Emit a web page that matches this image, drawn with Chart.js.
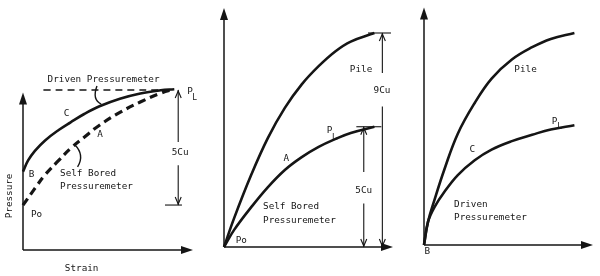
<!DOCTYPE html>
<html>
<head>
<meta charset="utf-8">
<script src="https://cdn.jsdelivr.net/npm/chart.js@4.4.1/dist/chart.umd.min.js"></script>
<style>
body{margin:0;background:#fff;width:600px;height:276px;overflow:hidden;position:relative}
canvas{position:absolute;top:0}
</style>
</head>
<body>
<canvas id="p1" width="205" height="276" style="left:0"></canvas>
<canvas id="p2" width="200" height="276" style="left:205px"></canvas>
<canvas id="p3" width="195" height="276" style="left:405px"></canvas>
<script>
// panel 1 : driven vs self bored pressuremeter (strain / pressure, arbitrary units 0-10)
const strain1=[0,0.3,0.7,1.3,2.1,2.8,3.6,4.5,5.7,6.9,8.1,8.9]
const driven1=[4.9,5.6,6.2,6.85,7.5,7.98,8.5,8.98,9.45,9.78,9.98,10.05]
const strainSB1=[0,0.7,1.3,2.1,2.8,3.6,4.5,5.7,6.9,8.1,8.9]
const selfBored1=[2.8,3.85,4.7,5.6,6.35,7.05,7.8,8.6,9.25,9.8,10.05]
const limitStrain1=[1.2,8.9]
const limit1=[10,10]

// panel 2 : pile vs self bored
const strain2=[0,0.6,1.6,2.6,3.6,4.6,5.6,6.6,7.5,8.9]
const pile2=[0,1.35,3.35,5.1,6.5,7.6,8.45,9.15,9.6,10]
const selfBored2=[0,0.8,1.85,2.8,3.6,4.2,4.68,5.05,5.33,5.62]

// panel 3 : pile vs driven
const strain3=[0,0.24,0.63,1.2,2.0,3.0,4.0,5.2,6.4,7.5,8.9]
const pile3=[0,1.1,2.15,3.55,5.25,6.7,7.85,8.75,9.33,9.72,10]
const driven3=[0,1.1,1.8,2.5,3.3,4.0,4.5,4.9,5.2,5.45,5.65]

const ink='#151515'
const mono='"DejaVu Sans Mono", monospace'

const pts=(xs,ys)=>xs.map((x,i)=>({x:x,y:ys[i]}))

function line(c,x1,y1,x2,y2){c.beginPath();c.moveTo(x1,y1);c.lineTo(x2,y2);c.stroke()}

// filled arrow head for the axes
function head(c,x,y,dir){
  c.beginPath()
  if(dir=='r'){c.moveTo(x,y);c.lineTo(x-12,y-4);c.lineTo(x-12,y+4)}
  else{c.moveTo(x,y);c.lineTo(x-4,y+12);c.lineTo(x+4,y+12)}
  c.closePath();c.fill()
}
// open head for the dimension arrows
function vee(c,x,y,up){
  const d=up?7:-7
  c.beginPath();c.moveTo(x-3,y+d);c.lineTo(x,y);c.lineTo(x+3,y+d);c.stroke()
}

const sketch={
  id:'sketch',
  afterDatasetsDraw(chart,args,o){
    const c=chart.ctx
    const X=v=>chart.scales.x.getPixelForValue(v)
    const Y=v=>chart.scales.y.getPixelForValue(v)
    c.save()
    c.strokeStyle=ink;c.fillStyle=ink;c.lineWidth=1.5
    // axes
    line(c,X(0),Y(0),X(10)-6,Y(0))
    line(c,X(0),Y(0),X(0),Y(o.yTop)+6)
    head(c,X(10),Y(0),'r')
    head(c,X(0),Y(o.yTop),'u')
    // dimension arrows
    c.lineWidth=1.1
    ;(o.dims||[]).forEach(d=>{
      line(c,X(d.x),Y(d.to),X(d.x),Y(d.gap[0]))
      line(c,X(d.x),Y(d.gap[1]),X(d.x),Y(d.from))
      vee(c,X(d.x),Y(d.to)+1,true)
      vee(c,X(d.x),Y(d.from)-1,false)
      if(d.tick)line(c,X(d.tick[0]),Y(d.tick[2]),X(d.tick[1]),Y(d.tick[2]))
    })
    // curved leaders
    c.lineWidth=1.4
    ;(o.leaders||[]).forEach(p=>{
      c.beginPath();c.moveTo(X(p[0]),Y(p[1]))
      c.quadraticCurveTo(X(p[2]),Y(p[3]),X(p[4]),Y(p[5]));c.stroke()
    })
    // text
    c.textBaseline='middle'
    ;(o.labels||[]).forEach(l=>{
      c.font=(l.s||9.3)+'px '+mono
      c.textAlign=l.a||'center'
      if(l.r){
        c.save();c.translate(X(l.x),Y(l.y));c.rotate(-Math.PI/2)
        c.fillText(l.t,0,0);c.restore()
      }else c.fillText(l.t,X(l.x),Y(l.y))
    })
    c.restore()
  }
}

function curve(data,dash,w){
  return {data:data,showLine:true,borderColor:ink,borderWidth:w||2.6,borderDash:dash||[],
    pointRadius:0,tension:0.4,clip:false,fill:false}
}

function panel(id,pad,datasets,extra){
  return new Chart(document.getElementById(id),{
    type:'scatter',
    data:{datasets:datasets},
    options:{
      responsive:false,animation:false,
      layout:{padding:pad},
      scales:{
        x:{type:'linear',min:0,max:10,display:false},
        y:{type:'linear',min:0,max:10,display:false}
      },
      plugins:{legend:{display:false},tooltip:{enabled:false},sketch:extra}
    },
    plugins:[sketch]
  })
}

panel('p1',{left:23,right:12,top:90,bottom:26},[
  curve(pts(limitStrain1,limit1),[7,5],1.3),
  curve(pts(strain1,driven1)),
  curve(pts(strainSB1,selfBored1),[8,5],3.2)
],{
  yTop:9.85,
  dims:[{x:9.13,from:2.81,to:10,gap:[6.75,5.3],tick:[8.35,9.35,2.81]}],
  leaders:[[4.35,10.25,4.05,9.4,4.6,9.12],[3.03,6.6,3.65,5.95,3.21,5.2]],
  labels:[
    {t:'Driven Pressuremeter',x:4.74,y:10.67},
    {t:'C',x:2.56,y:8.53},
    {t:'A',x:4.53,y:7.19},
    {t:'B',x:0.51,y:4.69},
    {t:'Self Bored',x:2.18,y:4.79,a:'left'},
    {t:'Pressuremeter',x:2.18,y:3.96,a:'left'},
    {t:'Po',x:0.8,y:2.19},
    {t:'5Cu',x:9.24,y:6.06},
    {t:'P',x:9.82,y:9.88},
    {t:'L',x:10.1,y:9.5,s:8},
    {t:'Strain',x:3.45,y:-1.14},
    {t:'Pressure',x:-0.76,y:3.38,r:true}
  ]
})

panel('p2',{left:19,right:12,top:33,bottom:29},[
  curve(pts(strain2,pile2)),
  curve(pts(strain2,selfBored2))
],{
  yTop:11.17,
  dims:[
    {x:9.37,from:0,to:10,gap:[8.13,6.56],tick:[8.52,9.88,10]},
    {x:8.27,from:0,to:5.62,gap:[3.51,2.03],tick:[7.83,9.31,5.62]}
  ],
  labels:[
    {t:'Pile',x:8.11,y:8.28},
    {t:'9Cu',x:9.35,y:7.31},
    {t:'P',x:6.25,y:5.42},
    {t:'L',x:6.54,y:5.09,s:8},
    {t:'A',x:3.69,y:4.11},
    {t:'5Cu',x:8.27,y:2.62},
    {t:'Self Bored',x:2.31,y:1.87,a:'left'},
    {t:'Pressuremeter',x:2.31,y:1.25,a:'left'},
    {t:'Po',x:1.02,y:0.31}
  ]
})

panel('p3',{left:19,right:7,top:33,bottom:31},[
  curve(pts(strain3,pile3)),
  curve(pts(strain3,driven3))
],{
  yTop:11.2,
  labels:[
    {t:'Pile',x:6.01,y:8.27},
    {t:'P',x:7.73,y:5.82},
    {t:'L',x:8.02,y:5.57,s:8},
    {t:'C',x:2.86,y:4.49},
    {t:'Driven',x:1.78,y:1.89,a:'left'},
    {t:'Pressuremeter',x:1.78,y:1.29,a:'left'},
    {t:'B',x:0.2,y:-0.32}
  ]
})
</script>
</body>
</html>
